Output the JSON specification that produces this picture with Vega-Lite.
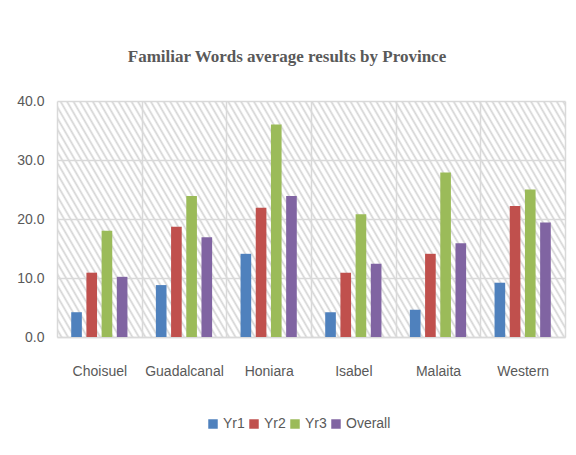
{
  "$schema": "https://vega.github.io/schema/vega-lite/v6.json",
  "width": 508,
  "height": 236,
  "autosize": "none",
  "padding": {"left": 57, "top": 101, "right": 11, "bottom": 118},
  "background": "white",
  "title": {
    "text": "Familiar Words average results by Province",
    "font": "Liberation Serif",
    "fontSize": 17,
    "fontWeight": "bold",
    "color": "#595959",
    "anchor": "middle",
    "frame": "group",
    "dx": -24,
    "offset": 28
  },
  "data": {
    "values": [
      {"province": "Choisuel", "series": "Yr1", "value": 4.2},
      {"province": "Choisuel", "series": "Yr2", "value": 10.9},
      {"province": "Choisuel", "series": "Yr3", "value": 18.0},
      {"province": "Choisuel", "series": "Overall", "value": 10.2},
      {"province": "Guadalcanal", "series": "Yr1", "value": 8.8},
      {"province": "Guadalcanal", "series": "Yr2", "value": 18.7},
      {"province": "Guadalcanal", "series": "Yr3", "value": 23.9},
      {"province": "Guadalcanal", "series": "Overall", "value": 16.9},
      {"province": "Honiara", "series": "Yr1", "value": 14.1},
      {"province": "Honiara", "series": "Yr2", "value": 21.9},
      {"province": "Honiara", "series": "Yr3", "value": 36.0},
      {"province": "Honiara", "series": "Overall", "value": 23.9},
      {"province": "Isabel", "series": "Yr1", "value": 4.2},
      {"province": "Isabel", "series": "Yr2", "value": 10.9},
      {"province": "Isabel", "series": "Yr3", "value": 20.8},
      {"province": "Isabel", "series": "Overall", "value": 12.4},
      {"province": "Malaita", "series": "Yr1", "value": 4.6},
      {"province": "Malaita", "series": "Yr2", "value": 14.1},
      {"province": "Malaita", "series": "Yr3", "value": 27.9},
      {"province": "Malaita", "series": "Overall", "value": 15.9},
      {"province": "Western", "series": "Yr1", "value": 9.2},
      {"province": "Western", "series": "Yr2", "value": 22.2},
      {"province": "Western", "series": "Yr3", "value": 25.0},
      {"province": "Western", "series": "Overall", "value": 19.4}
    ]
  },
  "mark": {"type": "bar"},
  "encoding": {
    "x": {
      "field": "province",
      "type": "nominal",
      "sort": null,
      "scale": {"paddingInner": 0, "paddingOuter": 0},
      "axis": {
        "title": null,
        "labelAngle": 0,
        "ticks": false,
        "grid": true,
        "tickBand": "extent",
        "gridColor": "#d9d9d9",
        "gridWidth": 1.5,
        "domainColor": "#d9d9d9",
        "domainWidth": 1.5,
        "labelFont": "Liberation Sans, sans-serif",
        "labelFontSize": 14,
        "labelColor": "#595959",
        "labelPadding": 27
      }
    },
    "xOffset": {
      "field": "series",
      "type": "nominal",
      "sort": ["Yr1", "Yr2", "Yr3", "Overall"],
      "scale": {"paddingInner": 0.3, "paddingOuter": 0.935}
    },
    "y": {
      "field": "value",
      "type": "quantitative",
      "scale": {"domain": [0, 40]},
      "axis": {
        "title": null,
        "values": [0, 10, 20, 30, 40],
        "format": ".1f",
        "ticks": false,
        "domain": false,
        "grid": true,
        "gridColor": "#d9d9d9",
        "gridWidth": 1.5,
        "labelFont": "Liberation Sans, sans-serif",
        "labelFontSize": 14,
        "labelColor": "#595959",
        "labelPadding": 13
      }
    },
    "color": {
      "field": "series",
      "type": "nominal",
      "sort": ["Yr1", "Yr2", "Yr3", "Overall"],
      "scale": {
        "domain": ["Yr1", "Yr2", "Yr3", "Overall"],
        "range": ["#4F81BD", "#C0504D", "#9BBB59", "#8064A2"]
      },
      "legend": {
        "title": null,
        "orient": "none",
        "direction": "horizontal",
        "legendX": 149,
        "legendY": 316,
        "padding": 0,
        "symbolType": "square",
        "symbolSize": 90,
        "symbolStrokeWidth": 0,
        "labelFont": "Liberation Sans, sans-serif",
        "labelFontSize": 14,
        "labelColor": "#595959",
        "labelOffset": 3,
        "columnPadding": 2
      }
    }
  },
  "config": {
    "view": {
      "stroke": null,
      "fill": {
        "gradient": "linear",
        "x1": 0, "y1": 1, "x2": 1.183, "y2": 0.682,
        "stops": [
{"offset":0,"color":"#fff"},{"offset":0.004,"color":"#fff"},{"offset":0.007,"color":"#d4d4d4"},
{"offset":0.01,"color":"#fff"},{"offset":0.014,"color":"#fff"},{"offset":0.017,"color":"#d4d4d4"},
{"offset":0.02,"color":"#fff"},{"offset":0.024,"color":"#fff"},{"offset":0.027,"color":"#d4d4d4"},
{"offset":0.03,"color":"#fff"},{"offset":0.034,"color":"#fff"},{"offset":0.037,"color":"#d4d4d4"},
{"offset":0.04,"color":"#fff"},{"offset":0.044,"color":"#fff"},{"offset":0.047,"color":"#d4d4d4"},
{"offset":0.05,"color":"#fff"},{"offset":0.054,"color":"#fff"},{"offset":0.057,"color":"#d4d4d4"},
{"offset":0.06,"color":"#fff"},{"offset":0.064,"color":"#fff"},{"offset":0.067,"color":"#d4d4d4"},
{"offset":0.07,"color":"#fff"},{"offset":0.074,"color":"#fff"},{"offset":0.077,"color":"#d4d4d4"},
{"offset":0.08,"color":"#fff"},{"offset":0.084,"color":"#fff"},{"offset":0.087,"color":"#d4d4d4"},
{"offset":0.09,"color":"#fff"},{"offset":0.094,"color":"#fff"},{"offset":0.097,"color":"#d4d4d4"},
{"offset":0.10,"color":"#fff"},{"offset":0.104,"color":"#fff"},{"offset":0.107,"color":"#d4d4d4"},
{"offset":0.11,"color":"#fff"},{"offset":0.114,"color":"#fff"},{"offset":0.117,"color":"#d4d4d4"},
{"offset":0.12,"color":"#fff"},{"offset":0.124,"color":"#fff"},{"offset":0.127,"color":"#d4d4d4"},
{"offset":0.13,"color":"#fff"},{"offset":0.134,"color":"#fff"},{"offset":0.137,"color":"#d4d4d4"},
{"offset":0.14,"color":"#fff"},{"offset":0.144,"color":"#fff"},{"offset":0.147,"color":"#d4d4d4"},
{"offset":0.15,"color":"#fff"},{"offset":0.154,"color":"#fff"},{"offset":0.157,"color":"#d4d4d4"},
{"offset":0.16,"color":"#fff"},{"offset":0.164,"color":"#fff"},{"offset":0.167,"color":"#d4d4d4"},
{"offset":0.17,"color":"#fff"},{"offset":0.174,"color":"#fff"},{"offset":0.177,"color":"#d4d4d4"},
{"offset":0.18,"color":"#fff"},{"offset":0.184,"color":"#fff"},{"offset":0.187,"color":"#d4d4d4"},
{"offset":0.19,"color":"#fff"},{"offset":0.194,"color":"#fff"},{"offset":0.197,"color":"#d4d4d4"},
{"offset":0.20,"color":"#fff"},{"offset":0.204,"color":"#fff"},{"offset":0.207,"color":"#d4d4d4"},
{"offset":0.21,"color":"#fff"},{"offset":0.214,"color":"#fff"},{"offset":0.217,"color":"#d4d4d4"},
{"offset":0.22,"color":"#fff"},{"offset":0.224,"color":"#fff"},{"offset":0.227,"color":"#d4d4d4"},
{"offset":0.23,"color":"#fff"},{"offset":0.234,"color":"#fff"},{"offset":0.237,"color":"#d4d4d4"},
{"offset":0.24,"color":"#fff"},{"offset":0.244,"color":"#fff"},{"offset":0.247,"color":"#d4d4d4"},
{"offset":0.25,"color":"#fff"},{"offset":0.254,"color":"#fff"},{"offset":0.257,"color":"#d4d4d4"},
{"offset":0.26,"color":"#fff"},{"offset":0.264,"color":"#fff"},{"offset":0.267,"color":"#d4d4d4"},
{"offset":0.27,"color":"#fff"},{"offset":0.274,"color":"#fff"},{"offset":0.277,"color":"#d4d4d4"},
{"offset":0.28,"color":"#fff"},{"offset":0.284,"color":"#fff"},{"offset":0.287,"color":"#d4d4d4"},
{"offset":0.29,"color":"#fff"},{"offset":0.294,"color":"#fff"},{"offset":0.297,"color":"#d4d4d4"},
{"offset":0.30,"color":"#fff"},{"offset":0.304,"color":"#fff"},{"offset":0.307,"color":"#d4d4d4"},
{"offset":0.31,"color":"#fff"},{"offset":0.314,"color":"#fff"},{"offset":0.317,"color":"#d4d4d4"},
{"offset":0.32,"color":"#fff"},{"offset":0.324,"color":"#fff"},{"offset":0.327,"color":"#d4d4d4"},
{"offset":0.33,"color":"#fff"},{"offset":0.334,"color":"#fff"},{"offset":0.337,"color":"#d4d4d4"},
{"offset":0.34,"color":"#fff"},{"offset":0.344,"color":"#fff"},{"offset":0.347,"color":"#d4d4d4"},
{"offset":0.35,"color":"#fff"},{"offset":0.354,"color":"#fff"},{"offset":0.357,"color":"#d4d4d4"},
{"offset":0.36,"color":"#fff"},{"offset":0.364,"color":"#fff"},{"offset":0.367,"color":"#d4d4d4"},
{"offset":0.37,"color":"#fff"},{"offset":0.374,"color":"#fff"},{"offset":0.377,"color":"#d4d4d4"},
{"offset":0.38,"color":"#fff"},{"offset":0.384,"color":"#fff"},{"offset":0.387,"color":"#d4d4d4"},
{"offset":0.39,"color":"#fff"},{"offset":0.394,"color":"#fff"},{"offset":0.397,"color":"#d4d4d4"},
{"offset":0.40,"color":"#fff"},{"offset":0.404,"color":"#fff"},{"offset":0.407,"color":"#d4d4d4"},
{"offset":0.41,"color":"#fff"},{"offset":0.414,"color":"#fff"},{"offset":0.417,"color":"#d4d4d4"},
{"offset":0.42,"color":"#fff"},{"offset":0.424,"color":"#fff"},{"offset":0.427,"color":"#d4d4d4"},
{"offset":0.43,"color":"#fff"},{"offset":0.434,"color":"#fff"},{"offset":0.437,"color":"#d4d4d4"},
{"offset":0.44,"color":"#fff"},{"offset":0.444,"color":"#fff"},{"offset":0.447,"color":"#d4d4d4"},
{"offset":0.45,"color":"#fff"},{"offset":0.454,"color":"#fff"},{"offset":0.457,"color":"#d4d4d4"},
{"offset":0.46,"color":"#fff"},{"offset":0.464,"color":"#fff"},{"offset":0.467,"color":"#d4d4d4"},
{"offset":0.47,"color":"#fff"},{"offset":0.474,"color":"#fff"},{"offset":0.477,"color":"#d4d4d4"},
{"offset":0.48,"color":"#fff"},{"offset":0.484,"color":"#fff"},{"offset":0.487,"color":"#d4d4d4"},
{"offset":0.49,"color":"#fff"},{"offset":0.494,"color":"#fff"},{"offset":0.497,"color":"#d4d4d4"},
{"offset":0.50,"color":"#fff"},{"offset":0.504,"color":"#fff"},{"offset":0.507,"color":"#d4d4d4"},
{"offset":0.51,"color":"#fff"},{"offset":0.514,"color":"#fff"},{"offset":0.517,"color":"#d4d4d4"},
{"offset":0.52,"color":"#fff"},{"offset":0.524,"color":"#fff"},{"offset":0.527,"color":"#d4d4d4"},
{"offset":0.53,"color":"#fff"},{"offset":0.534,"color":"#fff"},{"offset":0.537,"color":"#d4d4d4"},
{"offset":0.54,"color":"#fff"},{"offset":0.544,"color":"#fff"},{"offset":0.547,"color":"#d4d4d4"},
{"offset":0.55,"color":"#fff"},{"offset":0.554,"color":"#fff"},{"offset":0.557,"color":"#d4d4d4"},
{"offset":0.56,"color":"#fff"},{"offset":0.564,"color":"#fff"},{"offset":0.567,"color":"#d4d4d4"},
{"offset":0.57,"color":"#fff"},{"offset":0.574,"color":"#fff"},{"offset":0.577,"color":"#d4d4d4"},
{"offset":0.58,"color":"#fff"},{"offset":0.584,"color":"#fff"},{"offset":0.587,"color":"#d4d4d4"},
{"offset":0.59,"color":"#fff"},{"offset":0.594,"color":"#fff"},{"offset":0.597,"color":"#d4d4d4"},
{"offset":0.60,"color":"#fff"},{"offset":0.604,"color":"#fff"},{"offset":0.607,"color":"#d4d4d4"},
{"offset":0.61,"color":"#fff"},{"offset":0.614,"color":"#fff"},{"offset":0.617,"color":"#d4d4d4"},
{"offset":0.62,"color":"#fff"},{"offset":0.624,"color":"#fff"},{"offset":0.627,"color":"#d4d4d4"},
{"offset":0.63,"color":"#fff"},{"offset":0.634,"color":"#fff"},{"offset":0.637,"color":"#d4d4d4"},
{"offset":0.64,"color":"#fff"},{"offset":0.644,"color":"#fff"},{"offset":0.647,"color":"#d4d4d4"},
{"offset":0.65,"color":"#fff"},{"offset":0.654,"color":"#fff"},{"offset":0.657,"color":"#d4d4d4"},
{"offset":0.66,"color":"#fff"},{"offset":0.664,"color":"#fff"},{"offset":0.667,"color":"#d4d4d4"},
{"offset":0.67,"color":"#fff"},{"offset":0.674,"color":"#fff"},{"offset":0.677,"color":"#d4d4d4"},
{"offset":0.68,"color":"#fff"},{"offset":0.684,"color":"#fff"},{"offset":0.687,"color":"#d4d4d4"},
{"offset":0.69,"color":"#fff"},{"offset":0.694,"color":"#fff"},{"offset":0.697,"color":"#d4d4d4"},
{"offset":0.70,"color":"#fff"},{"offset":0.704,"color":"#fff"},{"offset":0.707,"color":"#d4d4d4"},
{"offset":0.71,"color":"#fff"},{"offset":0.714,"color":"#fff"},{"offset":0.717,"color":"#d4d4d4"},
{"offset":0.72,"color":"#fff"},{"offset":0.724,"color":"#fff"},{"offset":0.727,"color":"#d4d4d4"},
{"offset":0.73,"color":"#fff"},{"offset":0.734,"color":"#fff"},{"offset":0.737,"color":"#d4d4d4"},
{"offset":0.74,"color":"#fff"},{"offset":0.744,"color":"#fff"},{"offset":0.747,"color":"#d4d4d4"},
{"offset":0.75,"color":"#fff"},{"offset":0.754,"color":"#fff"},{"offset":0.757,"color":"#d4d4d4"},
{"offset":0.76,"color":"#fff"},{"offset":0.764,"color":"#fff"},{"offset":0.767,"color":"#d4d4d4"},
{"offset":0.77,"color":"#fff"},{"offset":0.774,"color":"#fff"},{"offset":0.777,"color":"#d4d4d4"},
{"offset":0.78,"color":"#fff"},{"offset":0.784,"color":"#fff"},{"offset":0.787,"color":"#d4d4d4"},
{"offset":0.79,"color":"#fff"},{"offset":0.794,"color":"#fff"},{"offset":0.797,"color":"#d4d4d4"},
{"offset":0.80,"color":"#fff"},{"offset":0.804,"color":"#fff"},{"offset":0.807,"color":"#d4d4d4"},
{"offset":0.81,"color":"#fff"},{"offset":0.814,"color":"#fff"},{"offset":0.817,"color":"#d4d4d4"},
{"offset":0.82,"color":"#fff"},{"offset":0.824,"color":"#fff"},{"offset":0.827,"color":"#d4d4d4"},
{"offset":0.83,"color":"#fff"},{"offset":0.834,"color":"#fff"},{"offset":0.837,"color":"#d4d4d4"},
{"offset":0.84,"color":"#fff"},{"offset":0.844,"color":"#fff"},{"offset":0.847,"color":"#d4d4d4"},
{"offset":0.85,"color":"#fff"},{"offset":0.854,"color":"#fff"},{"offset":0.857,"color":"#d4d4d4"},
{"offset":0.86,"color":"#fff"},{"offset":0.864,"color":"#fff"},{"offset":0.867,"color":"#d4d4d4"},
{"offset":0.87,"color":"#fff"},{"offset":0.874,"color":"#fff"},{"offset":0.877,"color":"#d4d4d4"},
{"offset":0.88,"color":"#fff"},{"offset":0.884,"color":"#fff"},{"offset":0.887,"color":"#d4d4d4"},
{"offset":0.89,"color":"#fff"},{"offset":0.894,"color":"#fff"},{"offset":0.897,"color":"#d4d4d4"},
{"offset":0.90,"color":"#fff"},{"offset":0.904,"color":"#fff"},{"offset":0.907,"color":"#d4d4d4"},
{"offset":0.91,"color":"#fff"},{"offset":0.914,"color":"#fff"},{"offset":0.917,"color":"#d4d4d4"},
{"offset":0.92,"color":"#fff"},{"offset":0.924,"color":"#fff"},{"offset":0.927,"color":"#d4d4d4"},
{"offset":0.93,"color":"#fff"},{"offset":0.934,"color":"#fff"},{"offset":0.937,"color":"#d4d4d4"},
{"offset":0.94,"color":"#fff"},{"offset":0.944,"color":"#fff"},{"offset":0.947,"color":"#d4d4d4"},
{"offset":0.95,"color":"#fff"},{"offset":0.954,"color":"#fff"},{"offset":0.957,"color":"#d4d4d4"},
{"offset":0.96,"color":"#fff"},{"offset":0.964,"color":"#fff"},{"offset":0.967,"color":"#d4d4d4"},
{"offset":0.97,"color":"#fff"},{"offset":0.974,"color":"#fff"},{"offset":0.977,"color":"#d4d4d4"},
{"offset":0.98,"color":"#fff"},{"offset":0.984,"color":"#fff"},{"offset":0.987,"color":"#d4d4d4"},
{"offset":0.99,"color":"#fff"},{"offset":0.994,"color":"#fff"},{"offset":0.997,"color":"#d4d4d4"},
{"offset":1,"color":"#fff"}
        ]
      }
    }
  }
}
